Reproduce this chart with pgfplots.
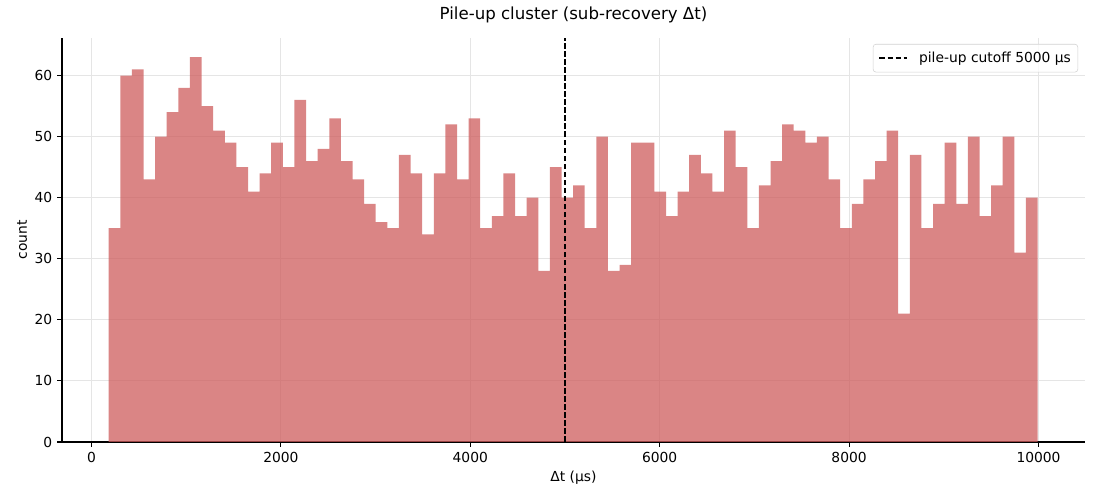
\documentclass[border=0pt]{standalone}
\usepackage{fontspec}
\setmainfont{DejaVu Sans}
\usepackage{pgfplots}
\pgfplotsset{compat=1.18}
\definecolor{barred}{RGB}{205,92,92}
\definecolor{gridc}{RGB}{229,229,229}
\begin{document}
\begin{tikzpicture}
\useasboundingbox (-44.64bp,-41.76bp) rectangle (747.36bp,318.24bp);
\begin{axis}[
  scale only axis,
  width=736.56bp, height=290.88bp,
  xmin=-311, xmax=10491, ymin=0, ymax=66.15,
  axis x line*=bottom, axis y line*=left,
  axis line style={-, black, line width=0.8pt},
  xtick={0,2000,4000,6000,8000,10000},
  ytick={0,10,20,30,40,50,60},
  scaled ticks=false,
  tick align=outside,
  major tick length=3.5bp,
  tick style={black, line width=0.8pt},
  grid=major,
  major grid style={gridc, line width=0.8pt},
  /pgf/number format/1000 sep={},
  /pgf/number format/assume math mode=true,
  tick label style={font=\fontsize{10}{12}\selectfont, text=black},
  title={Pile-up cluster (sub-recovery Δt)},
  title style={font=\fontsize{12}{14}\selectfont, at={(axis description cs:0.5,1.0371)}, anchor=center},
  xlabel={Δt (μs)},
  xlabel style={font=\fontsize{10}{12}\selectfont, at={(axis description cs:0.5,-0.0891)}, anchor=center},
  ylabel={count},
  ylabel style={font=\fontsize{10}{12}\selectfont, at={(axis description cs:-0.0391,0.5)}, anchor=center, rotate=0},
  legend style={at={(axis description cs:1,1)}, anchor=north east, xshift=-5bp, yshift=-4.3bp,
    draw=gray!35, rounded corners=2pt, fill=white, fill opacity=0.8, text opacity=1,
    font=\fontsize{10}{12}\selectfont, inner xsep=3pt, inner ysep=3.5pt},
  legend cell align=left,
  legend image code/.code={\draw[#1] (0bp,0bp) -- (20bp,0bp); \path (-1bp,0bp) (26bp,0bp);},
]
\addplot[ybar interval, fill=barred, fill opacity=0.75, draw=none, forget plot] coordinates {
(182.0,35) (304.6,60) (427.2,61) (549.8,43) (672.4,50) (795.0,54) (917.6,58) (1040.2,63)
(1162.8,55) (1285.4,51) (1408.0,49) (1530.6,45) (1653.2,41) (1775.8,44) (1898.4,49) (2021.0,45)
(2143.6,56) (2266.2,46) (2388.8,48) (2511.4,53) (2634.0,46) (2756.6,43) (2879.2,39) (3001.8,36)
(3124.4,35) (3247.0,47) (3369.6,44) (3492.2,34) (3614.8,44) (3737.4,52) (3860.0,43) (3982.6,53)
(4105.2,35) (4227.8,37) (4350.4,44) (4473.0,37) (4595.6,40) (4718.2,28) (4840.8,45) (4963.4,40)
(5086.0,42) (5208.6,35) (5331.2,50) (5453.8,28) (5576.4,29) (5699.0,49) (5821.6,49) (5944.2,41)
(6066.8,37) (6189.4,41) (6312.0,47) (6434.6,44) (6557.2,41) (6679.8,51) (6802.4,45) (6925.0,35)
(7047.6,42) (7170.2,46) (7292.8,52) (7415.4,51) (7538.0,49) (7660.6,50) (7783.2,43) (7905.8,35)
(8028.4,39) (8151.0,43) (8273.6,46) (8396.2,51) (8518.8,21) (8641.4,47) (8764.0,35) (8886.6,39)
(9009.2,49) (9131.8,39) (9254.4,50) (9377.0,37) (9499.6,42) (9622.2,50) (9744.8,31) (9867.4,40)
(9990.0,40)
};
\addplot[black, line width=1.1pt, dash pattern=on 4pt off 1.8pt] coordinates {(5000,0) (5000,66.15)};
\addlegendentry{pile-up cutoff 5000 μs}
\end{axis}
\end{tikzpicture}
\end{document}
